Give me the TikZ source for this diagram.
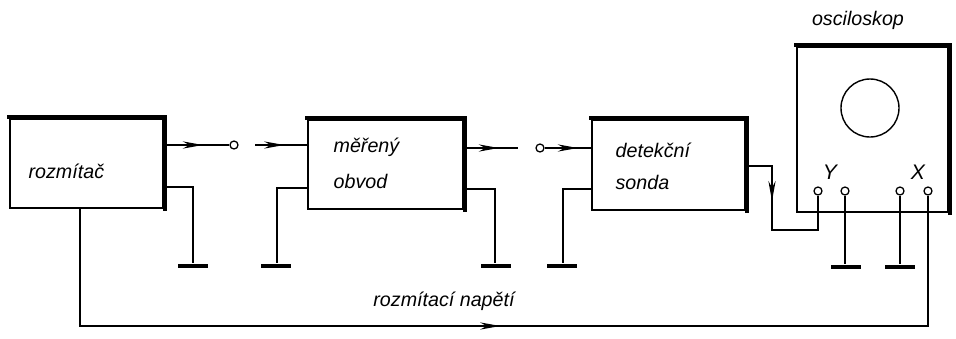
\documentclass[tikz,border=0pt]{standalone}
\usepackage{fontspec}
\setmainfont{Liberation Sans}
\usetikzlibrary{arrows.meta,decorations.markings}
\begin{document}
\begin{tikzpicture}[x=0.025cm,y=-0.025cm, line width=0.9pt,
  box/.style={draw, line width=1pt, inner sep=0pt},
  shadowedge/.style={line width=3pt, line cap=rect},
  lbl/.style={font=\fontsize{14}{16}\selectfont\itshape, inner sep=0pt},
  term/.style={circle, draw, line width=0.9pt, fill=white, inner sep=0pt, minimum size=0.2cm},
  gndbar/.style={fill=black, inner sep=0pt, minimum width=0.75cm, minimum height=0.1cm},
  arr/.style={postaction={decorate}, decoration={markings, mark=at position #1 with {\arrow{Stealth[length=0.5cm,width=0.18cm]}}}}
]
\useasboundingbox (0,0) rectangle (956,338);

% boxes
\node[box, minimum width=3.825cm, minimum height=2.225cm] (r) at (86.5,163.5) {};
\node[box, minimum width=3.875cm, minimum height=2.225cm] (m) at (385.5,164.5) {};
\node[box, minimum width=3.825cm, minimum height=2.25cm] (d) at (668.5,165) {};
\node[box, minimum width=3.775cm, minimum height=4.125cm] (o) at (872.5,129.5) {};
\foreach \b in {r,m,d,o}{
  \draw[shadowedge] ([yshift=1pt]\b.north west) -- ([xshift=1pt,yshift=1pt]\b.north east) -- ([xshift=1pt]\b.south east);
}
\node[circle, draw, line width=1pt, minimum size=1.45cm] (scr) at (870,108) {};

% labels
\node[lbl, anchor=west] (tr) at (28,171) {rozmítač};
\node[lbl, anchor=west] (tm1) at (333,147) {měřený};
\node[lbl, anchor=west] (tm2) at (333,181) {obvod};
\node[lbl, anchor=west] (td1) at (615,150) {detekční};
\node[lbl, anchor=west] (td2) at (615,182) {sonda};
\node[lbl] (to) at (858,20) {osciloskop};
\node[lbl, font=\fontsize{15}{17}\selectfont\itshape] (tY) at (830,172) {Y};
\node[lbl, font=\fontsize{15}{17}\selectfont\itshape] (tX) at (918,172) {X};
\node[lbl] (tn) at (444,301) {rozmítací napětí};

% terminals
\node[term] (c1) at (234,145) {};
\node[term] (c2) at (540,148) {};
\node[term] (Y1) at (818,191) {};
\node[term] (Y2) at (845,191) {};
\node[term] (X1) at (900,191) {};
\node[term] (X2) at (928,191) {};

% grounds
\node[gndbar] (g1) at (193,266) {};
\node[gndbar] (g2) at (276,266) {};
\node[gndbar] (g3) at (496,266) {};
\node[gndbar] (g4) at (562,266) {};
\node[gndbar] (g5) at (846,267) {};
\node[gndbar] (g6) at (900,267) {};

% ports
\coordinate (rOut) at (163,145);
\coordinate (rG) at (163,187);
\coordinate (rB) at (80,208);
\coordinate (a2) at (255,145);
\coordinate (mIn) at (308,145);
\coordinate (mG) at (308,188);
\coordinate (mOut) at (463,148);
\coordinate (a3) at (518,148);
\coordinate (mG2) at (463,189);
\coordinate (dIn) at (592,148);
\coordinate (dG) at (592,189);
\coordinate (dOut) at (745,166);

% connectors
\draw[arr=0.6] (rOut) -- (c1);
\draw[arr=0.55] (a2) -- (mIn);
\draw[arr=0.65] (mOut) -- (a3);
\draw[arr=0.7] (c2) -- (dIn);
\draw (rG) -| (g1.north);
\draw (mG) -| (g2.north -| 277,0);
\draw (mG2) -| (g3.north -| 495,0);
\draw (dG) -| (g4.north -| 563,0);
\draw (Y2) -- (Y2 |- g5.north);
\draw (X1) -- (g6.north);
\draw[arr=1.55cm] (dOut) -| (772,230) -| (Y1);
\draw[arr=13.45cm] (rB) |- (928,326) -- (X2);
\end{tikzpicture}
\end{document}
